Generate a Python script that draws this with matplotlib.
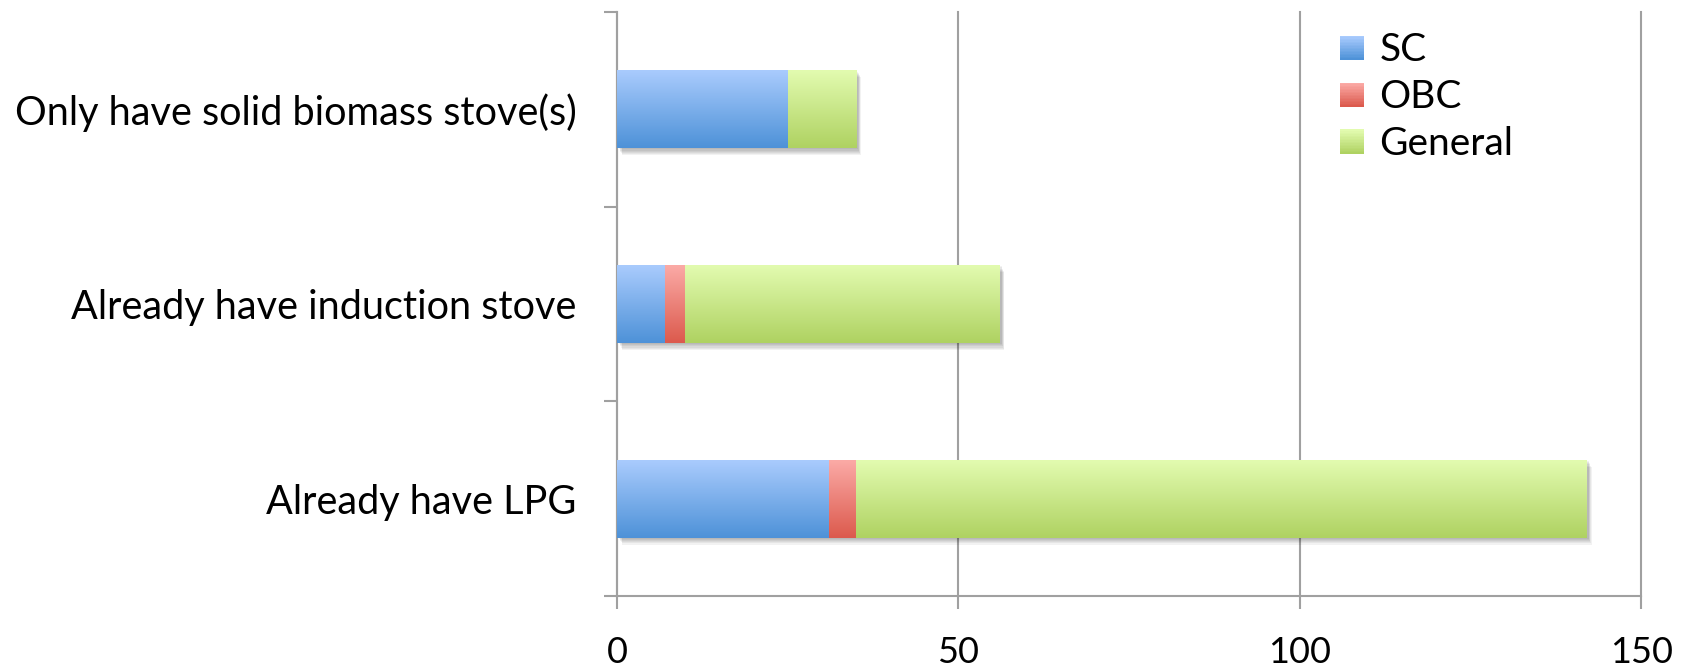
import matplotlib.pyplot as plt
import numpy as np
from matplotlib.colors import LinearSegmentedColormap, to_rgb
from matplotlib.legend_handler import HandlerBase
from matplotlib.patches import Rectangle

plt.rcParams['font.family'] = ['Lato', 'DejaVu Sans']

categories = ["Already have LPG", "Already have induction stove",
              "Only have solid biomass stove(s)"]
series_names = ["SC", "OBC", "General"]
sc = [31, 7, 25]
obc = [4, 3, 0]
general = [107, 46, 10]
x_ticks = [0, 50, 100, 150]

# (top colour, bottom colour) for each series
shades = [("#a9cbfd", "#4e92d8"),
          ("#fbaaa6", "#dc5a4d"),
          ("#e2fbaf", "#afd262")]

GRAY = "#a0a0a0"


def fill_gradient(ax, patch, top, bottom):
    cmap = LinearSegmentedColormap.from_list("g", [bottom, top])
    x0, y0 = patch.get_x(), patch.get_y()
    w, h = patch.get_width(), patch.get_height()
    if w <= 0:
        return
    grad = np.linspace(0, 1, 64).reshape(-1, 1)
    im = ax.imshow(grad, cmap=cmap, aspect='auto', origin='lower',
                   extent=(x0, x0 + w, y0, y0 + h), zorder=3,
                   interpolation='bicubic')
    im.set_clip_path(patch)
    patch.set_facecolor("none")


class GradientSwatch(HandlerBase):
    def __init__(self, top, bottom, steps=16):
        super().__init__()
        self.top = np.array(to_rgb(top))
        self.bottom = np.array(to_rgb(bottom))
        self.steps = steps

    def create_artists(self, legend, orig_handle, xdescent, ydescent,
                       width, height, fontsize, trans):
        side = min(width, height)
        rects = []
        for i in range(self.steps):
            t = i / (self.steps - 1)
            c = self.bottom * (1 - t) + self.top * t
            rects.append(Rectangle((-xdescent, -ydescent + side * i / self.steps),
                                   side, side / self.steps * 1.05,
                                   facecolor=c, lw=0, transform=trans))
        return rects


def main():
    fig = plt.figure(figsize=(16.88, 6.70), dpi=100)
    ax = fig.add_axes([0.3655, 0.1104, 0.6067, 0.8716])

    y = np.arange(len(categories))
    height = 0.4
    totals = np.array(sc) + np.array(obc) + np.array(general)

    # soft drop shadow under each whole bar
    for k in range(6):
        for yi, tot in zip(y, totals):
            ax.add_patch(Rectangle((0.35 + k * 0.08, yi - height / 2 - 0.006 - k * 0.006),
                                   tot, height, color="black", alpha=0.05,
                                   lw=0, zorder=2))

    left = np.zeros(len(categories))
    handles = []
    for vals, name, (top, bottom) in zip([sc, obc, general], series_names, shades):
        bars = ax.barh(y, vals, height=height, left=left, label=name,
                       color=bottom, lw=0, zorder=3)
        for p in bars.patches:
            fill_gradient(ax, p, top, bottom)
        handles.append(Rectangle((0, 0), 1, 1, color=bottom))
        left = left + np.array(vals)

    ax.set_xlim(0, 150)
    ax.set_ylim(-0.5, len(categories) - 0.5)
    ax.set_xticks(x_ticks)
    ax.set_xticklabels([str(t) for t in x_ticks], fontsize=26)
    ax.set_yticks(y)
    ax.set_yticklabels(categories, fontsize=28.5)
    ax.set_yticks(np.arange(len(categories) + 1) - 0.5, minor=True)

    ax.tick_params(axis='y', which='major', length=0, pad=29)
    ax.tick_params(axis='y', which='minor', length=9.5, width=1.5, color=GRAY)
    ax.tick_params(axis='x', length=9.5, width=1.5, color=GRAY, pad=19)

    ax.grid(axis='x', color=GRAY, lw=1.5, zorder=0)
    for line in ax.get_xgridlines():
        line.set_clip_on(False)
    ax.set_axisbelow(True)
    for side in ['top', 'right']:
        ax.spines[side].set_visible(False)
    for side in ['left', 'bottom']:
        ax.spines[side].set_color(GRAY)
        ax.spines[side].set_linewidth(1.5)

    # legend with gradient swatches
    hmap = {h: GradientSwatch(t, b) for h, (t, b) in zip(handles, shades)}
    ax.legend(handles, series_names, loc='upper left', handler_map=hmap,
              bbox_to_anchor=(0.706, 0.966), frameon=False, fontsize=28,
              handlelength=0.62, handleheight=0.62, handletextpad=0.39,
              labelspacing=0.28, borderaxespad=0, borderpad=0)

    fig.savefig("out.png", dpi=100)


if __name__ == "__main__":
    main()
